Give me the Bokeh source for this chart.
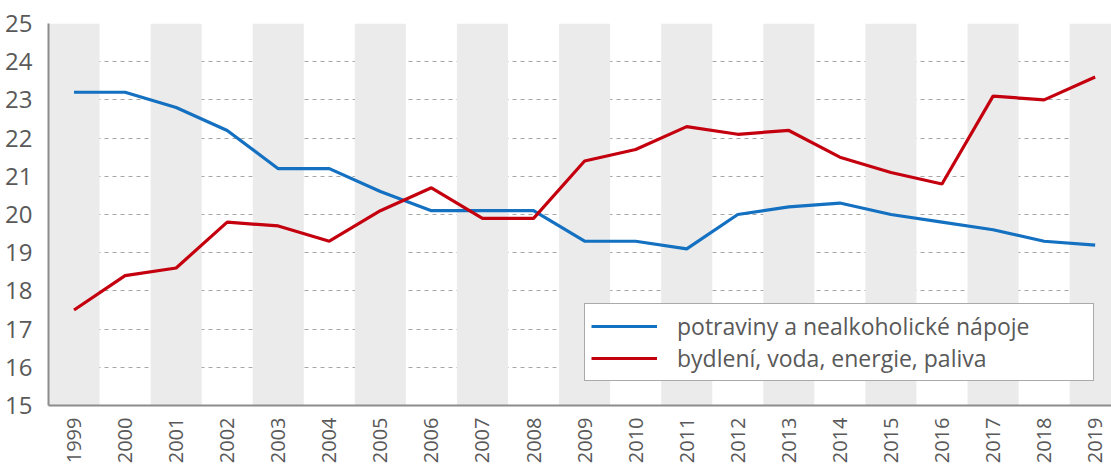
from bokeh.plotting import figure
from bokeh.models import Range1d, FixedTicker, Legend, LegendItem
from bokeh.embed import file_html
from bokeh.resources import INLINE
import math

years = list(range(1999, 2020))
potraviny = [23.2, 23.2, 22.8, 22.2, 21.2, 21.2, 20.6, 20.1, 20.1, 20.1, 19.3,
             19.3, 19.1, 20.0, 20.2, 20.3, 20.0, 19.8, 19.6, 19.3, 19.2]
bydleni = [17.5, 18.4, 18.6, 19.8, 19.7, 19.3, 20.1, 20.7, 19.9, 19.9, 21.4,
           21.7, 22.3, 22.1, 22.2, 21.5, 21.1, 20.8, 23.1, 23.0, 23.6]
y_ticks = list(range(15, 26))
label_potraviny = "potraviny a nealkoholické nápoje"
label_bydleni = "bydlení, voda, energie, paliva"

band_years = years[::2]

FONT = "Open Sans"
TXT = "#595959"

p = figure(width=1111, height=466, output_backend="svg", toolbar_location=None,
           x_range=Range1d(1998.5, 2019.32), y_range=Range1d(15, 25),
           min_border_left=48, min_border_top=23, min_border_right=0, min_border_bottom=58)
p.outline_line_color = None
p.background_fill_color = "white"

p.vbar(x=band_years, width=1.0, top=25, bottom=15, fill_color="#ebebeb", line_color=None)

r1 = p.line(years, potraviny, line_color="#1470c0", line_width=3.2)
r2 = p.line(years, bydleni, line_color="#c4000f", line_width=3.2)

p.xgrid.visible = False
p.ygrid.ticker = FixedTicker(ticks=y_ticks[1:])
p.ygrid.grid_line_color = "#a6a6a6"
p.ygrid.grid_line_dash = "4 4"
p.ygrid.grid_line_width = 1.2

p.xaxis.ticker = FixedTicker(ticks=years)
p.yaxis.ticker = FixedTicker(ticks=y_ticks)
for ax in (p.xaxis[0], p.yaxis[0]):
    ax.axis_line_color = "#8c8c8c"
    ax.axis_line_width = 2
    ax.major_tick_line_color = None
    ax.minor_tick_line_color = None
    ax.major_label_text_font = FONT
    ax.major_label_text_color = TXT
p.yaxis.major_label_text_font_size = "24px"
p.yaxis.major_label_standoff = 10
p.xaxis.major_label_text_font_size = "20px"
p.xaxis.major_label_orientation = math.pi / 2
p.xaxis.major_label_standoff = 6

legend = Legend(items=[LegendItem(label=label_potraviny, renderers=[r1]),
                       LegendItem(label=label_bydleni, renderers=[r2])],
                location=(536, 24))
legend.label_text_font = FONT
legend.label_text_font_size = "23px"
legend.label_text_color = TXT
legend.glyph_width = 66
legend.glyph_height = 26
legend.label_height = 26
legend.label_standoff = 20
legend.label_width = 410
legend.spacing = 0
legend.padding = 6
legend.margin = 0
legend.border_line_color = "#555555"
legend.border_line_width = 1.5
legend.background_fill_color = "white"
legend.background_fill_alpha = 1.0
p.add_layout(legend, "center")

open("out.html", "w").write(file_html(p, INLINE))
